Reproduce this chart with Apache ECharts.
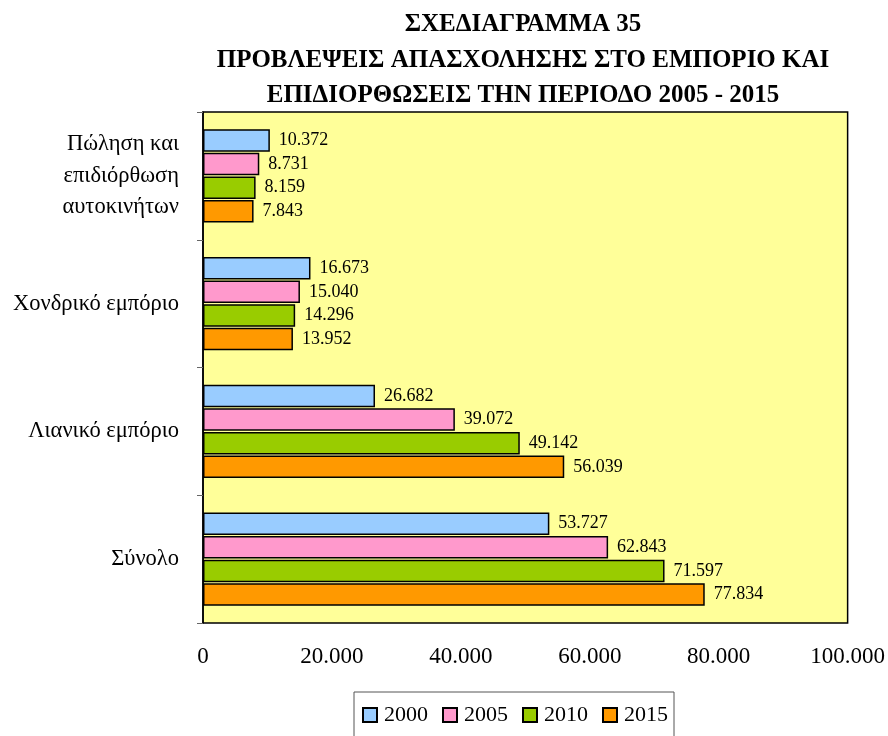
<!DOCTYPE html>
<html>
<head>
<meta charset="utf-8">
<script src="https://cdn.jsdelivr.net/npm/echarts@6/dist/echarts.min.js"></script>
<style>
  html, body { margin: 0; padding: 0; background: #fff; }
  #chart { width: 888px; height: 736px; }
</style>
</head>
<body>
<div id="chart"></div>
<script>
// Employment forecasts in trade and repairs, 2000-2015
const categories = ['Πώληση και\nεπιδιόρθωση\nαυτοκινήτων', 'Χονδρικό εμπόριο', 'Λιανικό εμπόριο', 'Σύνολο'];
const years = ['2000', '2005', '2010', '2015'];
const values2000 = [10372, 16673, 26682, 53727];
const values2005 = [8731, 15040, 39072, 62843];
const values2010 = [8159, 14296, 49142, 71597];
const values2015 = [7843, 13952, 56039, 77834];
const xTicks = [0, 20000, 40000, 60000, 80000, 100000];
const colors = ['#99CCFF', '#FF99CC', '#99CC00', '#FF9900'];

const serif = '"Liberation Serif", "DejaVu Serif", serif';
const fmt = v => String(v).replace(/\B(?=(\d{3})+(?!\d))/g, '.');

const seriesValues = [values2000, values2005, values2010, values2015];

const chart = echarts.init(document.getElementById('chart'), null, { renderer: 'canvas' });
chart.setOption({
  animation: false,
  backgroundColor: '#ffffff',
  title: {
    text: 'ΣΧΕΔΙΑΓΡΑΜΜΑ 35\nΠΡΟΒΛΕΨΕΙΣ ΑΠΑΣΧΟΛΗΣΗΣ ΣΤΟ ΕΜΠΟΡΙΟ ΚΑΙ\nΕΠΙΔΙΟΡΘΩΣΕΙΣ ΤΗΝ ΠΕΡΙΟΔΟ 2005 - 2015',
    left: 518,
    top: 2,
    textAlign: 'center',
    textStyle: {
      fontFamily: serif,
      fontWeight: 'bold',
      fontSize: 25,
      lineHeight: 35.5,
      color: '#000'
    }
  },
  legend: {
    data: years,
    left: 354,
    top: 692,
    padding: [12, 6, 14, 8],
    itemGap: 14,
    itemWidth: 14,
    itemHeight: 14,
    borderColor: '#555',
    borderWidth: 1,
    icon: 'rect',
    textStyle: { fontFamily: serif, fontSize: 22, color: '#000', padding: [0, 0, 0, 2] }
  },
  grid: {
    left: 203,
    right: 39,
    top: 112,
    bottom: 113,
    show: true,
    backgroundColor: '#FFFF99',
    borderColor: '#000',
    borderWidth: 1.5
  },
  xAxis: {
    type: 'value',
    min: xTicks[0],
    max: xTicks[xTicks.length - 1],
    interval: xTicks[1] - xTicks[0],
    splitLine: { show: false },
    axisTick: { show: false },
    axisLine: { show: false },
    axisLabel: {
      margin: 22,
      fontFamily: serif,
      fontSize: 23,
      color: '#000',
      formatter: v => fmt(v)
    }
  },
  yAxis: {
    type: 'category',
    data: categories,
    inverse: true,
    axisLine: { show: true, lineStyle: { color: '#000', width: 1.5 } },
    axisTick: { show: true, length: 6, lineStyle: { color: '#666' } },
    axisLabel: {
      margin: 24,
      fontFamily: serif,
      fontSize: 22.5,
      lineHeight: 31.5,
      color: '#000'
    }
  },
  series: years.map((y, i) => ({
    name: y,
    type: 'bar',
    data: seriesValues[i],
    barGap: '5%',
    barCategoryGap: '27%',
    itemStyle: { color: colors[i], borderColor: '#000', borderWidth: 1.5 },
    label: {
      show: true,
      position: 'right',
      distance: 9,
      fontFamily: serif,
      fontSize: 18,
      color: '#000',
      formatter: p => fmt(p.value)
    }
  }))
});
</script>
</body>
</html>
